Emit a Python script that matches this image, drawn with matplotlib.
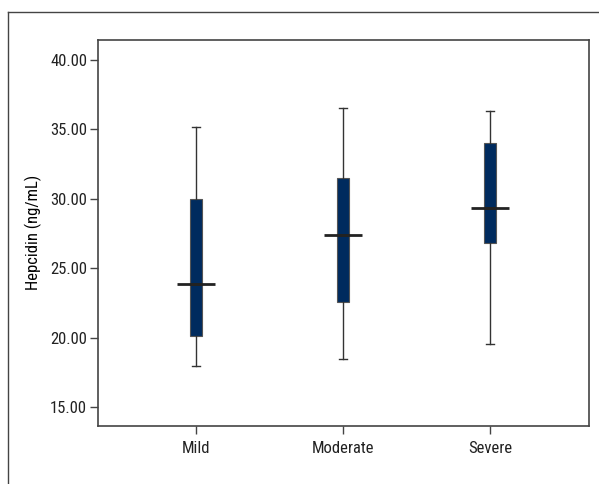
import matplotlib
matplotlib.use("Agg")
import matplotlib.pyplot as plt
from matplotlib.lines import Line2D

plt.rcParams['font.family'] = ['Liberation Sans Narrow', 'DejaVu Sans Condensed', 'Roboto Condensed', 'Roboto', 'DejaVu Sans']

####DATA
categories = ["Mild", "Moderate", "Severe"]
whisker_low = [17.95, 18.44, 19.54]
q1 = [20.14, 22.54, 26.84]
median = [23.86, 27.39, 29.32]
q3 = [30.0, 31.48, 34.04]
whisker_high = [35.2, 36.54, 36.33]
y_ticks = [15, 20, 25, 30, 35, 40]

stats = []
for i, name in enumerate(categories):
    stats.append({"label": name, "whislo": whisker_low[i], "q1": q1[i], "med": median[i],
                  "q3": q3[i], "whishi": whisker_high[i], "fliers": []})

####PLOTTING
fig = plt.figure(figsize=(5.99, 4.84), dpi=100)
ax = fig.add_axes([0.1641, 0.1205, 0.8187, 0.7969])

ax.bxp(stats, positions=[1, 2, 3], widths=0.084, patch_artist=True, showfliers=False,
       boxprops=dict(facecolor="#002b5e", edgecolor="#555555", linewidth=0.8),
       medianprops=dict(color="#222222", linewidth=2.0),
       whiskerprops=dict(color="#333333", linewidth=1.0),
       capprops=dict(color="#333333", linewidth=1.0),
       capwidths=0.05)

# median lines stick out past the box
for i in range(len(categories)):
    ax.hlines(median[i], i + 1 - 0.13, i + 1 + 0.13, color="#222222", linewidth=2.0, zorder=4)

ax.set_xlim(0.335, 3.67)
ax.set_ylim(13.67, 41.44)
ax.set_yticks(y_ticks)
ax.set_yticklabels(["%.2f" % v for v in y_ticks])
ax.set_xticks([1, 2, 3])
ax.set_xticklabels(categories)
ax.set_ylabel("Hepcidin (ng/mL)", fontsize=12, labelpad=6)

for s in ax.spines.values():
    s.set_color("#444444")
    s.set_linewidth(1.2)
ax.tick_params(axis="both", direction="out", length=6, width=1, color="#444444",
               labelsize=12, labelcolor="#222222", pad=2)
ax.tick_params(axis="x", pad=5)

# outer frame around the figure
fig.add_artist(Line2D([0.0134, 1.0], [0.9758, 0.9758], transform=fig.transFigure, color="#444444", linewidth=1))
fig.add_artist(Line2D([0.0134, 0.0134], [0.0, 0.9758], transform=fig.transFigure, color="#444444", linewidth=1))

plt.savefig("out.png", dpi=100)
